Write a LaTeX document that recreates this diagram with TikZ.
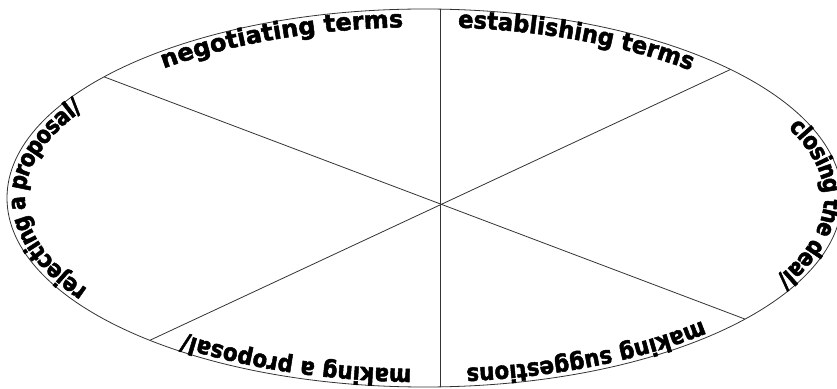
\documentclass[tikz,border=0pt]{standalone}
\usepackage{fontspec}
\setmainfont{DejaVu Sans}
\newfontfamily\fw{DejaVu Sans Bold}[FakeBold=2]
\newfontfamily\fe{DejaVu Sans Bold}[FakeBold=2,FakeStretch=0.94]
\newfontfamily\fb{DejaVu Sans Bold}[FakeBold=2,FakeStretch=0.89]
\newfontfamily\fs{DejaVu Sans Bold}[FakeBold=2,FakeStretch=0.86]
\usetikzlibrary{decorations.text,calc}
\tikzset{
  rim/.style={draw=black!80, line width=0.8pt},
  spoke/.style={draw=black!80, line width=0.8pt},
  lbl/.style 2 args={decorate, decoration={text along path, text={|#1\fontsize{24}{24}\selectfont|#2}, text align=center}},
  sidelbl/.style={decorate, decoration={text along path, text={|\fs\fontsize{24}{24}\selectfont|#1}, text align=center, raise=-9pt}},
  inner/.style={x radius=399.5, y radius=171},
  mid/.style={x radius=408.5, y radius=180}
}
\begin{document}
\begin{tikzpicture}[x=1pt,y=1pt]
\useasboundingbox (0,0) rectangle (837,388);
\coordinate (E) at (424.5,190);
\coordinate (C) at (440,184);
\coordinate (T) at (440,400);
\coordinate (B) at (440,-20);
\coordinate (P1) at (107,310);
\coordinate (P2) at (750,67);
\coordinate (P3) at (729,318);
\coordinate (P4) at (148,47);
\begin{scope}
  \clip (E) ellipse [x radius=417.5, y radius=189];
  \draw[spoke] (T) -- (B);
  \draw[spoke] ($(C)!1.2!(P1)$) -- ($(C)!1.2!(P2)$);
  \draw[spoke] ($(C)!1.2!(P3)$) -- ($(C)!1.2!(P4)$);
\end{scope}
\draw[rim] (E) ellipse [x radius=417.5, y radius=189];
\path[lbl={\fw}{negotiating terms}] ($(E)+(143.5:399.5 and 171)$) arc[inner, start angle=143.5, end angle=83.5];
\path[lbl={\fe}{establishing terms}] ($(E)+(92.1:399.5 and 171)$) arc[inner, start angle=92.1, end angle=39.1];
\path[lbl={\fb}{making suggestions}] ($(E)+(-42:399.5 and 171)$) arc[inner, start angle=-42, end angle=-87];
\path[lbl={\fb}{making a proposal/}] ($(E)+(-87:399.5 and 171)$) arc[inner, start angle=-87, end angle=-133];
\path[sidelbl={closing the deal/}] ($(E)+(43:408.5 and 180)$) arc[mid, start angle=43, end angle=-46];
\path[sidelbl={rejecting a proposal/}] ($(E)+(229:408.5 and 180)$) arc[mid, start angle=229, end angle=132];
\end{tikzpicture}
\end{document}
